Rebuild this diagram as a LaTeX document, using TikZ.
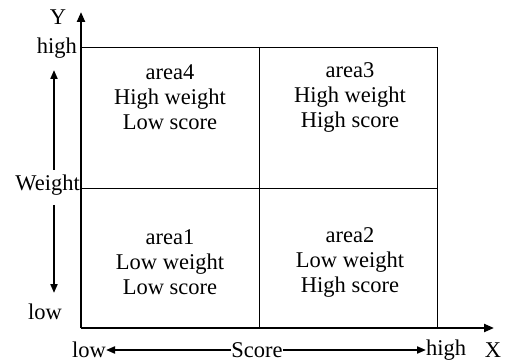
\documentclass[tikz,border=0pt]{standalone}
\usepackage{fontspec}
\setmainfont{Liberation Serif}
\usetikzlibrary{arrows.meta}
\begin{document}
\begin{tikzpicture}[x=1pt,y=-1pt,
  lbl/.style={font=\fontsize{22.5}{25}\selectfont, inner sep=0pt},
  area/.style={font=\fontsize{22.5}{25}\selectfont, align=center, inner sep=0pt},
  axis/.style={line width=2.2pt, -{Triangle[length=10pt,width=8pt]}},
  thin/.style={line width=0.9pt},
  dirarrow/.style={line width=2pt, -{Triangle[length=9pt,width=7pt]}}]
\useasboundingbox (0,0) rectangle (508,363);
% coordinates
\coordinate (O) at (81,328);
\coordinate (Ytip) at (81,12);
\coordinate (Xtip) at (494,328);
\coordinate (TL) at (81,47);
\coordinate (TR) at (437,47);
\coordinate (BR) at (437,328);
\coordinate (TM) at (259,47);
\coordinate (BM) at (259,328);
\coordinate (ML) at (81,188);
\coordinate (MR) at (437,188);
% grid lines
\draw[thin] (TL) -- (TR) -- (BR);
\draw[thin] (TM) -- (BM);
\draw[thin] (ML) -- (MR);
% axes
\draw[axis] (O) -- (Ytip);
\draw[axis] (O) -- (Xtip);
% axis labels
\node[lbl] (Y) at (58,17) {Y};
\node[lbl, anchor=east] (yhigh) at (77,48) {high};
\node[lbl] (ylow) at (45,312) {low};
\node[lbl, anchor=east] (weight) at (80,185) {Weight};
\coordinate (wup0) at (54,170);
\coordinate (wup1) at (54,70);
\coordinate (wdn0) at (54,205);
\coordinate (wdn1) at (54,293);
\draw[dirarrow] (wup0) -- (wup1);
\draw[dirarrow] (wdn0) -- (wdn1);
% bottom labels
\node[lbl, anchor=east] (xlow) at (106,350) {low};
\node[lbl] (score) at (257,350) {Score};
\node[lbl, anchor=west] (xhigh) at (426,350) {high};
\node[lbl] (X) at (493,350) {X};
\draw[dirarrow] (score.west) -- (xlow.east);
\draw[dirarrow] (score.east) -- (xhigh.west);
% areas
\node[area] (a4) at (170,97) {area4\\High weight\\Low score};
\node[area] (a3) at (350,97) {area3\\High weight\\High score};
\node[area] (a1) at (170,262) {area1\\Low weight\\Low score};
\node[area] (a2) at (350,262) {area2\\Low weight\\High score};
\end{tikzpicture}
\end{document}
